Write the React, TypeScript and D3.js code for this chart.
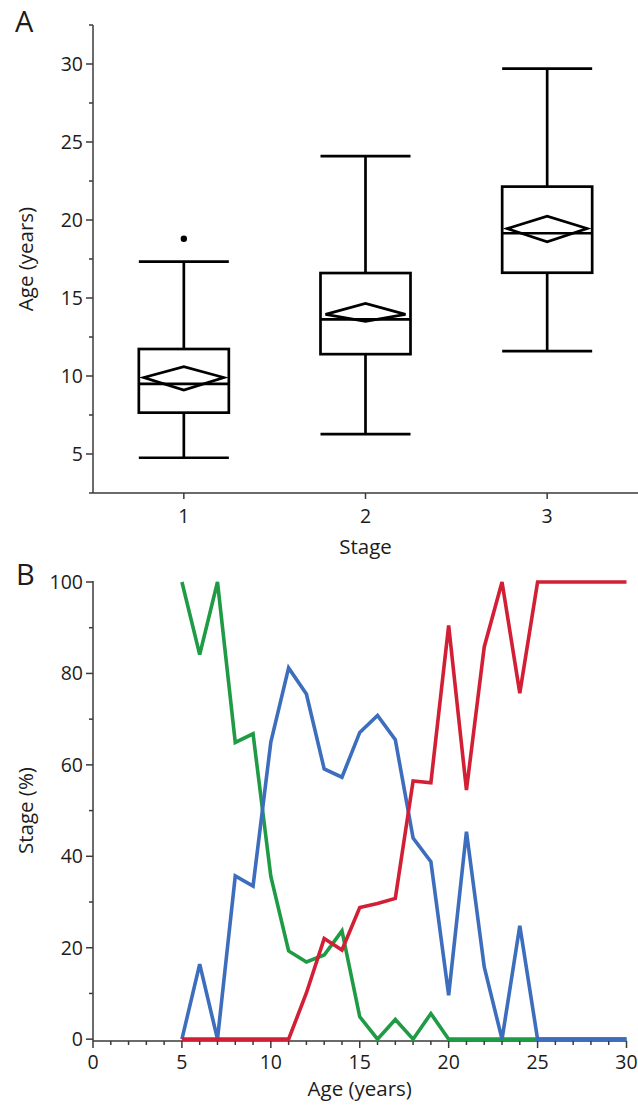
import React from "react";
import * as d3 from "d3";

// Panel A: age by stage (box plot)
const stages = [1, 2, 3];
const whiskerLow = [4.76, 6.28, 11.6];
const q1 = [7.65, 11.4, 16.62];
const medians = [9.49, 13.63, 19.15];
const q3 = [11.73, 16.6, 22.14];
const whiskerHigh = [17.33, 24.1, 29.7];
const means = [9.9, 13.95, 19.45];
const meanLow = [9.1, 13.5, 18.6];
const meanHigh = [10.6, 14.65, 20.25];
const outliers = [{ stage: 1, value: 18.8 }];
const ageTicks = [5, 10, 15, 20, 25, 30];
const ageMinorTicks = [2.5, 7.5, 12.5, 17.5, 22.5, 27.5, 32.5];

// Panel B: stage share (%) by age
const ages = [5, 6, 7, 8, 9, 10, 11, 12, 13, 14, 15, 16, 17, 18, 19, 20, 21, 22, 23, 24, 25, 26, 27, 28, 29, 30];
const stage1Pct = [100, 84.1, 100, 64.9, 66.8, 35.6, 19.3, 16.9, 18.4, 23.7, 4.9, 0, 4.3, 0, 5.6, 0, 0, 0, 0, 0, 0, 0, 0, 0, 0, 0];
const stage2Pct = [0, 16.4, 0, 35.7, 33.5, 65, 81.2, 75.5, 59.1, 57.3, 67.1, 70.8, 65.5, 44, 38.8, 9.6, 45.4, 15.8, 0, 24.8, 0, 0, 0, 0, 0, 0];
const stage3Pct = [0, 0, 0, 0, 0, 0, 0, 10.1, 22, 19.5, 28.8, 29.7, 30.8, 56.5, 56.1, 90.5, 54.5, 85.8, 100, 75.7, 100, 100, 100, 100, 100, 100];
const pctTicks = [0, 20, 40, 60, 80, 100];
const pctMinorTicks = [10, 30, 50, 70, 90];
const xAgeTicks = [0, 5, 10, 15, 20, 25, 30];
const xAgeMinorTicks = [1, 2, 3, 4, 6, 7, 8, 9, 11, 12, 13, 14, 16, 17, 18, 19, 21, 22, 23, 24, 26, 27, 28, 29];

const W = 638;
const H = 1106;
const FONT = "'Open Sans', 'DejaVu Sans', sans-serif";
const AXIS = "#3a3a3a";
const TEXT = "#1c1c1c";
const TICK_FS = 19.5;
const TITLE_FS = 20.5;

const lineSeries = [
  { name: "Stage 1", values: stage1Pct, color: "#1f9b45" },
  { name: "Stage 2", values: stage2Pct, color: "#3d6dbd" },
  { name: "Stage 3", values: stage3Pct, color: "#d21f35" },
];

export default function App() {
  // ---- panel A scales
  const axLeft = 93;
  const xA = d3.scaleBand<number>().domain(stages).range([axLeft, 638]);
  const yA = d3.scaleLinear().domain([2.5, 32.5]).range([493, 25]);
  const boxW = 90;
  const diaW = 80;

  // ---- panel B scales
  const xB = d3.scaleLinear().domain([0, 30]).range([axLeft, 626.5]);
  const yB = d3.scaleLinear().domain([-0.4, 100]).range([1041, 582]);

  const line = d3
    .line<number>()
    .x((_, i) => xB(ages[i]))
    .y((d) => yB(d));

  const boxStroke = 2.7;

  return (
    <svg
      width={W}
      height={H}
      style={{ position: "absolute", left: 0, top: 0, background: "#fff" }}
      fontFamily={FONT}
    >
      <rect width={W} height={H} fill="#fff" />

      {/* ===== Panel A ===== */}
      <text x={15} y={32} fontSize={29} fill={TEXT}>A</text>

      {/* y axis */}
      <line x1={axLeft} x2={axLeft} y1={yA(32.5)} y2={yA(2.5)} stroke={AXIS} strokeWidth={1.5} />
      {ageTicks.map((t) => (
        <g key={"ya" + t}>
          <line x1={axLeft - 7} x2={axLeft} y1={yA(t)} y2={yA(t)} stroke={AXIS} strokeWidth={1.5} />
          <text x={axLeft - 10} y={yA(t)} dy="0.36em" textAnchor="end" fontSize={TICK_FS} fill={TEXT}>
            {t}
          </text>
        </g>
      ))}
      {ageMinorTicks.map((t) => (
        <line key={"yam" + t} x1={axLeft - 4} x2={axLeft} y1={yA(t)} y2={yA(t)} stroke={AXIS} strokeWidth={1.5} />
      ))}
      <text
        transform={`translate(33,${(yA(2.5) + yA(32.5)) / 2}) rotate(-90)`}
        textAnchor="middle"
        fontSize={TITLE_FS}
        fill={TEXT}
      >
        Age (years)
      </text>

      {/* x axis */}
      <line x1={axLeft} x2={638} y1={yA(2.5)} y2={yA(2.5)} stroke={AXIS} strokeWidth={1.5} />
      {stages.map((s) => {
        const cx = xA(s)! + xA.bandwidth() / 2;
        return (
          <g key={"xa" + s}>
            <line x1={cx} x2={cx} y1={yA(2.5)} y2={yA(2.5) + 6} stroke={AXIS} strokeWidth={1.5} />
            <text x={cx} y={523} textAnchor="middle" fontSize={TICK_FS} fill={TEXT}>
              {s}
            </text>
          </g>
        );
      })}
      <text x={(axLeft + 638) / 2} y={554} textAnchor="middle" fontSize={TITLE_FS} fill={TEXT}>
        Stage
      </text>

      {/* boxes */}
      {stages.map((s, i) => {
        const cx = xA(s)! + xA.bandwidth() / 2;
        const l = cx - boxW / 2;
        const r = cx + boxW / 2;
        return (
          <g key={"box" + s} stroke="#000" strokeWidth={boxStroke} fill="none">
            <line x1={cx} x2={cx} y1={yA(whiskerHigh[i])} y2={yA(q3[i])} />
            <line x1={cx} x2={cx} y1={yA(q1[i])} y2={yA(whiskerLow[i])} />
            <line x1={l} x2={r} y1={yA(whiskerHigh[i])} y2={yA(whiskerHigh[i])} />
            <line x1={l} x2={r} y1={yA(whiskerLow[i])} y2={yA(whiskerLow[i])} />
            <rect x={l} y={yA(q3[i])} width={boxW} height={yA(q1[i]) - yA(q3[i])} />
            <line x1={l} x2={r} y1={yA(medians[i])} y2={yA(medians[i])} />
            <path
              d={`M${cx - diaW / 2},${yA(means[i])}L${cx},${yA(meanHigh[i])}L${cx + diaW / 2},${yA(means[i])}L${cx},${yA(meanLow[i])}Z`}
              strokeLinejoin="miter"
            />
          </g>
        );
      })}
      {outliers.map((o, i) => (
        <circle
          key={"out" + i}
          cx={xA(o.stage)! + xA.bandwidth() / 2}
          cy={yA(o.value)}
          r={3.2}
          fill="#000"
        />
      ))}

      {/* ===== Panel B ===== */}
      <text x={16} y={585} fontSize={29} fill={TEXT}>B</text>

      {/* y axis */}
      <line x1={axLeft} x2={axLeft} y1={yB(100) - 1} y2={yB(-0.4)} stroke={AXIS} strokeWidth={1.5} />
      {pctTicks.map((t) => (
        <g key={"yb" + t}>
          <line x1={axLeft - 7} x2={axLeft} y1={yB(t)} y2={yB(t)} stroke={AXIS} strokeWidth={1.5} />
          <text x={axLeft - 10} y={yB(t)} dy="0.36em" textAnchor="end" fontSize={TICK_FS} fill={TEXT}>
            {t}
          </text>
        </g>
      ))}
      {pctMinorTicks.map((t) => (
        <line key={"ybm" + t} x1={axLeft - 4} x2={axLeft} y1={yB(t)} y2={yB(t)} stroke={AXIS} strokeWidth={1.5} />
      ))}
      <text
        transform={`translate(33,${(yB(0) + yB(100)) / 2}) rotate(-90)`}
        textAnchor="middle"
        fontSize={TITLE_FS}
        fill={TEXT}
      >
        Stage (%)
      </text>

      {/* x axis */}
      <line x1={axLeft} x2={xB(30)} y1={yB(-0.4)} y2={yB(-0.4)} stroke={AXIS} strokeWidth={1.5} />
      {xAgeTicks.map((t) => (
        <g key={"xb" + t}>
          <line x1={xB(t)} x2={xB(t)} y1={yB(-0.4)} y2={yB(-0.4) + 7} stroke={AXIS} strokeWidth={1.5} />
          <text x={xB(t)} y={1069} textAnchor="middle" fontSize={TICK_FS} fill={TEXT}>
            {t}
          </text>
        </g>
      ))}
      {xAgeMinorTicks.map((t) => (
        <line key={"xbm" + t} x1={xB(t)} x2={xB(t)} y1={yB(-0.4)} y2={yB(-0.4) + 4} stroke={AXIS} strokeWidth={1.5} />
      ))}
      <text x={(xB(0) + xB(30)) / 2} y={1096} textAnchor="middle" fontSize={TITLE_FS} fill={TEXT}>
        Age (years)
      </text>

      {/* lines: green, then blue, then red on top */}
      {lineSeries.map((s) => (
        <path
          key={s.name}
          d={line(s.values) ?? ""}
          fill="none"
          stroke={s.color}
          strokeWidth={3.6}
          strokeLinejoin="miter"
        />
      ))}
    </svg>
  );
}
